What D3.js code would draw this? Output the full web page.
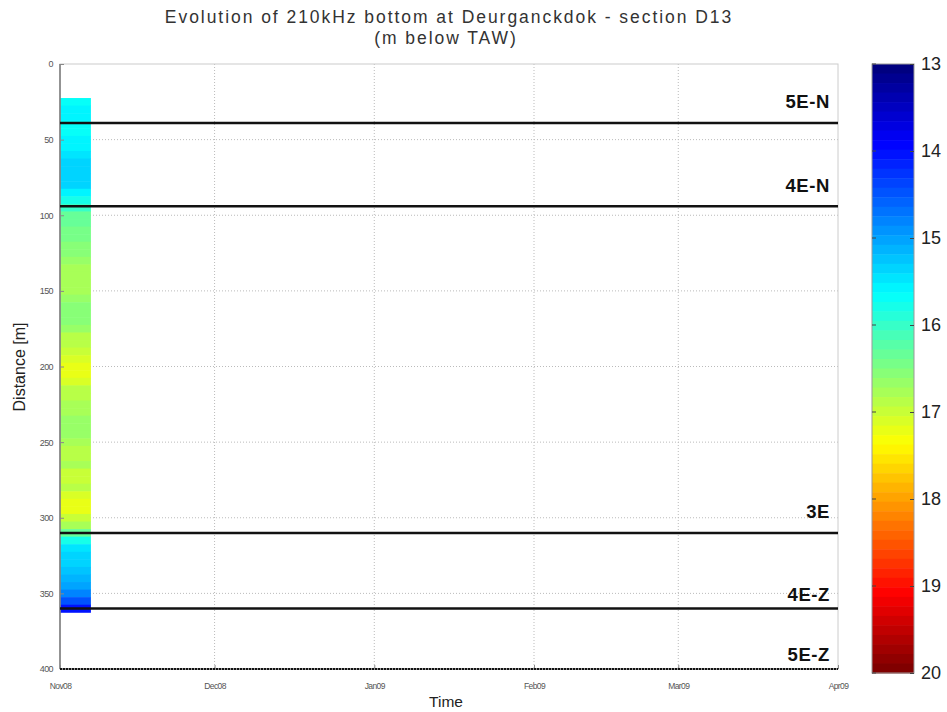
<!DOCTYPE html>
<html><head><meta charset="utf-8">
<script src="https://cdn.jsdelivr.net/npm/d3@7"></script>
<style>body{margin:0;background:#fff;} svg{display:block;font-family:"Liberation Sans",Arial,sans-serif;}</style>
</head><body><svg id="c" width="947" height="712"></svg>
<script>
// ---- data ----
const title1 = "Evolution of 210kHz bottom at Deurganckdok - section D13";
const title2 = "(m below TAW)";
const surveyStart = "2008-11-01";
const surveyEnd = "2008-11-07";
const binSize = 5;
const binCenters = [25,30,35,40,45,50,55,60,65,70,75,80,85,90,95,100,105,110,115,120,125,130,135,140,145,150,155,160,165,170,175,180,185,190,195,200,205,210,215,220,225,230,235,240,245,250,255,260,265,270,275,280,285,290,295,300,305,310,315,320,325,330,335,340,345,350,355,360];
const depthValues = [15.7,15.6,15.6,15.7,15.7,15.6,15.6,15.5,15.4,15.3,15.3,15.4,15.6,15.8,16.0,16.3,16.3,16.4,16.4,16.5,16.6,16.7,16.8,16.8,16.8,16.8,16.7,16.6,16.6,16.6,16.7,16.9,16.9,17.0,17.1,17.2,17.2,17.1,16.9,16.9,16.8,16.8,16.7,16.7,16.7,16.8,16.9,16.9,16.8,17.0,17.0,16.9,17.1,17.2,17.2,17.0,16.8,16.3,15.8,15.5,15.4,15.3,15.2,15.1,15.0,14.8,14.5,14.0];
const sectionNames = ["5E-N","4E-N","3E","4E-Z","5E-Z"];
const sectionDist = [39,94,310,360,400];
const labelOffset = [15,14,15,8,8];
const yTicks = [0,50,100,150,200,250,300,350,400];
const xTickDates = ["2008-11-01","2008-12-01","2009-01-01","2009-02-01","2009-03-01","2009-04-01"];
const xTickLabels = ["Nov08","Dec08","Jan09","Feb09","Mar09","Apr09"];
const cbTicks = [13,14,15,16,17,18,19,20];
const cbDomain = [13,20];

// ---- helpers ----
function jet(t){
  const c = v => Math.max(0, Math.min(1, v));
  const r = c(1.5 - Math.abs(4*t - 3)), g = c(1.5 - Math.abs(4*t - 2)), b = c(1.5 - Math.abs(4*t - 1));
  return d3.rgb(r*255, g*255, b*255).toString();
}
const nLevels = 64;
const color = v => {
  let t = (v - cbDomain[0])/(cbDomain[1]-cbDomain[0]);
  let k = Math.min(nLevels-1, Math.max(0, Math.floor(t*nLevels)));
  return jet(k/(nLevels-1));
};

const svg = d3.select("#c");
const L = 60, R = 838, T = 64, B = 669;
const parse = d3.utcParse("%Y-%m-%d");
const x = d3.scaleUtc().domain([parse("2008-11-01"), parse("2009-04-01")]).range([L, R]);
const y = d3.scaleLinear().domain([0, 400]).range([T, B]);

// title
svg.append("text").attr("x", 449).attr("y", 23).attr("text-anchor","middle").attr("font-size", 17.5).attr("letter-spacing", 1.95).attr("fill","#333").text(title1);
svg.append("text").attr("x", 446).attr("y", 44).attr("text-anchor","middle").attr("font-size", 17.5).attr("letter-spacing", 1.95).attr("fill","#333").text(title2);

// grid
const grid = svg.append("g").attr("stroke","#bbb").attr("stroke-dasharray","1,2").attr("stroke-width",1);
yTicks.filter(d => d>0 && d<400).forEach(d => grid.append("line").attr("x1", L).attr("x2", R).attr("y1", y(d)).attr("y2", y(d)));
xTickDates.slice(1,-1).forEach(d => grid.append("line").attr("x1", x(parse(d))).attr("x2", x(parse(d))).attr("y1", T).attr("y2", B));

// strip
svg.append("g").selectAll("rect").data(binCenters).join("rect")
  .attr("x", x(parse(surveyStart))).attr("width", x(parse(surveyEnd)) - x(parse(surveyStart)))
  .attr("y", d => y(d - binSize/2)).attr("height", d => y(d + binSize/2) - y(d - binSize/2) + 0.5)
  .attr("fill", (d,i) => color(depthValues[i]));

// box
svg.append("rect").attr("x", L).attr("y", T).attr("width", R-L).attr("height", B-T).attr("fill","none").attr("stroke","#ccc").attr("stroke-width",1);
svg.append("line").attr("x1", L).attr("x2", L).attr("y1", T).attr("y2", B).attr("stroke","#777").attr("stroke-width",1.5);
svg.append("line").attr("x1", L).attr("x2", R).attr("y1", B).attr("y2", B).attr("stroke","#777").attr("stroke-width",1.5);

// y axis
const ya = svg.append("g").attr("transform", `translate(${L},0)`)
  .call(d3.axisLeft(y).tickValues(yTicks).tickSize(-4).tickPadding(7));
ya.select(".domain").remove();
ya.selectAll("line").attr("stroke","#888");
ya.selectAll("text").attr("font-size", 9).attr("fill","#555").attr("letter-spacing", -0.6);
// x axis
const xa = svg.append("g").attr("transform", `translate(0,${B})`)
  .call(d3.axisBottom(x).tickValues(xTickDates.map(parse)).tickFormat((d,i) => xTickLabels[i]).tickSize(-4).tickPadding(14));
xa.select(".domain").remove();
xa.selectAll("line").attr("stroke","#888");
xa.selectAll("text").attr("font-size", 8.5).attr("fill","#555").attr("letter-spacing", -0.6);

// section lines
sectionNames.forEach((n, i) => {
  const yy = y(sectionDist[i]);
  const ln = svg.append("line").attr("x1", L).attr("x2", R).attr("y1", yy).attr("y2", yy).attr("stroke","#111");
  if (sectionDist[i] >= 400) ln.attr("stroke-width", 2).attr("stroke-dasharray","2,1");
  else ln.attr("stroke-width", 2.5);
  svg.append("text").attr("x", 830).attr("y", yy - labelOffset[i]).attr("text-anchor","end")
    .attr("font-size", 18.5).attr("font-weight","bold").attr("letter-spacing", 0.6).attr("fill","#111").text(n);
});

// axis titles
svg.append("text").attr("transform", "translate(25,367) rotate(-90)").attr("text-anchor","middle").attr("font-size", 16).attr("fill","#222").text("Distance [m]");
svg.append("text").attr("x", 446).attr("y", 707).attr("text-anchor","middle").attr("font-size", 15.5).attr("fill","#222").text("Time");

// colorbar
const cbL = 872, cbR = 914, cbT = 64, cbB = 673;
const cy = d3.scaleLinear().domain(cbDomain).range([cbT, cbB]);
const levels = d3.range(nLevels);
svg.append("g").selectAll("rect").data(levels).join("rect")
  .attr("x", cbL).attr("width", cbR - cbL)
  .attr("y", k => cy(cbDomain[0] + k*(cbDomain[1]-cbDomain[0])/nLevels))
  .attr("height", k => cy(cbDomain[0] + (k+1)*(cbDomain[1]-cbDomain[0])/nLevels) - cy(cbDomain[0] + k*(cbDomain[1]-cbDomain[0])/nLevels) + 0.5)
  .attr("fill", k => jet(k/(nLevels-1)));
svg.append("rect").attr("x", cbL).attr("y", cbT).attr("width", cbR-cbL).attr("height", cbB-cbT).attr("fill","none").attr("stroke","#999").attr("stroke-width",1);
const ca = svg.append("g").attr("transform", `translate(${cbR},0)`)
  .call(d3.axisRight(cy).tickValues(cbTicks).tickFormat(d3.format("d")).tickSize(-4).tickPadding(7));
ca.select(".domain").remove();
ca.selectAll("line").attr("stroke","#444");
ca.selectAll("text").attr("font-size", 18).attr("fill","#222");
cbTicks.forEach(t => svg.append("line").attr("x1", cbL).attr("x2", cbL+4).attr("y1", cy(t)).attr("y2", cy(t)).attr("stroke","#444"));
</script></body></html>
